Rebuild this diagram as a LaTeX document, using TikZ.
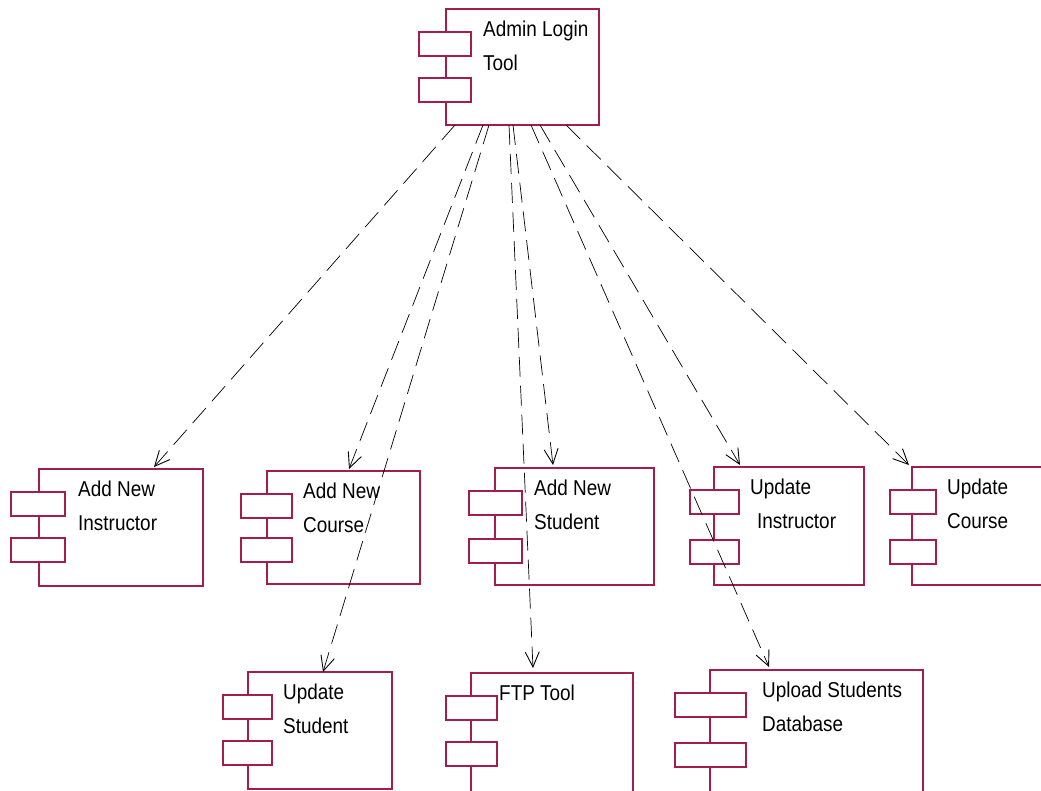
\documentclass[tikz,border=0pt]{standalone}
\usepackage{fontspec}
\setmainfont{Liberation Sans}[FakeStretch=0.88]
\usetikzlibrary{arrows.meta}
\definecolor{crim}{RGB}{165,30,75}
\newcommand\comp[8]{%
  \node[compbox, minimum width={(#4-#2)*1pt}, minimum height={(#5-#3)*1pt}] (#1) at (#2,#3) {};
  \draw[port] (#6,#3+23) rectangle (#7,#3+47);
  \draw[port] (#6,#3+#8) rectangle (#7,#3+#8+24);
}
\newcommand\lbl[5]{%
  \node[lbl] (#1-a) at (#2,#3+27) {#4};
  \node[lbl] (#1-b) at (#2,#3+61) {#5};
}
\begin{document}
\begin{tikzpicture}[x=1pt,y=-1pt,
  compbox/.style={draw=crim, line width=1.2pt, fill=white, inner sep=0pt, outer sep=0pt, anchor=north west, rectangle},
  port/.style={draw=crim, line width=1.2pt, fill=white},
  lbl/.style={anchor=base west, inner sep=0pt, font=\fontsize{21.5}{24}\selectfont},
  dep/.style={draw=black, line width=0.7pt, dash pattern=on 20pt off 9pt, -{Straight Barb[length=15pt,width=14pt,line width=0.9pt]}}]
\useasboundingbox (0,0) rectangle (1041,790);
\clip (0,0) rectangle (1041,790);
\fill[white] (0,0) rectangle (1041,790);
% components
\comp{admin}{446}{9}{599}{125}{419}{471}{69}
\lbl{admin}{483}{9}{Admin Login}{Tool}
\comp{instr}{39}{469}{203}{586}{11}{65}{69}
\lbl{instr}{78}{469}{Add New}{Instructor}
\comp{course}{267}{471}{420}{584}{241}{292}{67}
\lbl{course}{303}{471}{Add New}{Course}
\comp{student}{495}{468}{654}{585}{469}{522}{71}
\lbl{student}{534}{468}{Add New}{Student}
\comp{updinstr}{714}{467}{864}{585}{690}{739}{73}
\lbl{updinstr}{750}{467}{Update}{\hspace{7pt}Instructor}
\comp{updcourse}{912}{467}{1050}{585}{890}{936}{73}
\lbl{updcourse}{947}{467}{Update}{Course}
\comp{updstudent}{248}{672}{392}{789}{223}{272}{69}
\lbl{updstudent}{283}{672}{Update}{Student}
\comp{ftp}{471}{673}{633}{810}{446}{497}{69}
\node[lbl] (ftp-a) at (499,700) {FTP Tool};
\comp{upload}{710}{670}{923}{810}{675}{746}{73}
\lbl{upload}{762}{670}{Upload Students}{Database}
% dependencies
\draw[dep] ([xshift=9pt]admin.south west) -- ([xshift=115pt,yshift=2pt]instr.north west);
\draw[dep] ([xshift=37pt]admin.south west) -- ([xshift=82pt,yshift=2pt]course.north west);
\draw[dep] ([xshift=43pt]admin.south west) -- ([xshift=75pt]updstudent.north west);
\draw[dep] ([xshift=63pt]admin.south west) -- ([xshift=62pt,yshift=5pt]ftp.north west);
\draw[dep] ([xshift=67pt]admin.south west) -- ([xshift=58pt,yshift=3pt]student.north west);
\draw[dep] ([xshift=85pt]admin.south west) -- ([xshift=59pt,yshift=3pt]upload.north west);
\draw[dep] ([xshift=94pt]admin.south west) -- ([xshift=26pt,yshift=2pt]updinstr.north west);
\draw[dep] ([xshift=120pt]admin.south west) -- ([xshift=-3pt,yshift=2pt]updcourse.north west);
\end{tikzpicture}
\end{document}
